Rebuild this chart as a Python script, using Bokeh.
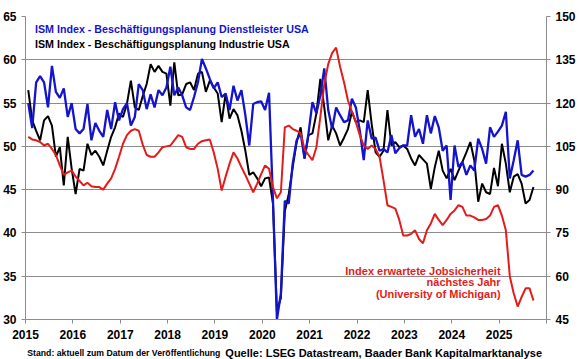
from bokeh.plotting import figure
from bokeh.layouts import column
from bokeh.models import Range1d, LinearAxis, FixedTicker, Label
from bokeh.core.properties import value
from bokeh.embed import file_html
from bokeh.resources import INLINE

# monthly data, Jan 2015 .. Sep 2025
services = [55, 52.1, 57.4, 58.1, 57.4, 54.5, 59.3, 56.3, 55.6, 56.7, 53.4, 55,
            52, 51.5, 52, 54.9, 50.7, 52.7, 51.8, 51.1, 54.2, 52, 55.1, 53,
            54.3, 55, 52.4, 53.4, 57.2, 56.5, 54.3, 56, 54.5, 56.5, 55.9, 56.8,
            59.2, 55.9, 56.8, 55.9, 54.5, 54.2, 55.7, 57.4, 60.1, 59, 57.8, 56.7,
            57.4, 55.7, 56.1, 54.2, 57, 55.3, 56.5, 53.6, 50.1, 54.9, 55.1, 55.2,
            54.2, 56.2, 43.8, 30, 33, 43.7, 43.4, 48, 50.7, 51.5, 48.6, 51.5,
            55.1, 53.8, 55.9, 59, 54.2, 52, 54.5, 53.6, 52.8, 53, 55.5, 54.5,
            51.8, 48.4, 53, 50.9, 51, 49.5, 49.7, 49.3, 51.3, 49.2, 49.8, 50.1,
            50.1, 53.6, 51.1, 52, 50.3, 53.6, 51.5, 53.5, 52.2, 49.5, 50.1, 43.8,
            50.1, 47.6, 48.2, 46.7, 47.8, 47.2, 50.9, 49.7, 48, 52.2, 51.1, 51.7,
            52.4, 54, 46.3, 48.4, 50.7, 46.7, 46.5, 46.7, 47.2]

industry = [56.5, 53, 51.8, 50.7, 53, 53.5, 52.4, 48.8, 49.9, 45.5, 51.1, 47.4,
            44.5, 47.4, 47.2, 50.3, 49, 49.5, 48.8, 47.8, 49.5, 51.1, 52.2, 53.8,
            53.4, 54.9, 57.6, 54.5, 54.2, 55.8, 57.2, 59.5, 58.6, 59.3, 58.6, 58.4,
            54.7, 59.7, 55.9, 56, 57.2, 57.4, 56.5, 58.4, 58.6, 56.3, 57.6, 56.8,
            56.1, 52.8, 56.1, 53.2, 54.3, 53.6, 51.8, 49.5, 46.7, 47, 46.3, 45.4,
            46.3, 46.4, 43.4, 31, 32.5, 42.5, 44.5, 47.6, 50.5, 52.2, 48.6, 51.3,
            51.5, 53.8, 57.8, 54.5, 50.7, 52.4, 51.5, 50.1, 51, 52, 54, 52.8,
            53, 52.8, 56.5, 52.6, 49.3, 48.8, 49.5, 54.2, 50.1, 50.5, 49.9, 50.1,
            49.7, 48.6, 47.8, 49, 48.5, 48, 45.1, 47.6, 49.5, 47.2, 46.3, 47.4,
            46.1, 47.2, 48.2, 49.3, 50.5, 48.4, 43.6, 45.7, 44.7, 44.5, 47.5, 45.4,
            50.3, 48, 44.7, 46.5, 46.8, 45.7, 43.4, 43.8, 45.3]

job_security = [108.3, 107.4, 107.1, 106.5, 105.3, 105.9, 104.1, 102, 98.4, 95.1, 96, 96.6,
                94.5, 93, 91.5, 92.4, 91.2, 90.9, 90.9, 90, 92.1, 93.9, 97.2, 101.4,
                105.9, 108.9, 110.4, 111, 110.4, 105.6, 102, 101.4, 101.4, 102.9, 104.7, 105,
                105.3, 107.1, 108.9, 108.3, 104.7, 104.1, 104.1, 105.9, 106.8, 107.1, 107.4, 102.9,
                97.2, 89.7, 94.5, 99, 102.9, 100.8, 97.8, 95.1, 92.1, 89.1, 92.1, 95.4,
                98.4, 97.2, 90.9, 87, 89.1, 111.6, 112.2, 111, 110.4, 109.5, 104.1, 102,
                100.2, 104.7, 115.2, 126.6, 133.5, 137.4, 139.2, 132.6, 127.2, 120.9, 117, 113.4,
                108.9, 105.3, 104.1, 105.3, 104.1, 101.4, 93.3, 84.6, 84, 83.4, 79.5, 74.1,
                74.1, 74.7, 75.9, 72.9, 71.4, 75.9, 78.3, 81.6, 79.5, 77.7, 79.5, 81.6,
                82.8, 84.6, 84, 81, 81, 80.4, 79.5, 79.5, 79.8, 81, 84, 84.6,
                81, 75.9, 60, 54, 49.5, 52.8, 55.8, 55.8, 51.6]

year_ticks = list(range(2015, 2027))
year_labels = {y: (str(y) if y < 2026 else "") for y in year_ticks}
left_ticks = [30, 35, 40, 45, 50, 55, 60, 65]
right_ticks = [45, 60, 75, 90, 105, 120, 135, 150]

label_services = "ISM Index - Beschäftigungsplanung Dienstleister USA"
label_industry = "ISM Index - Beschäftigungsplanung Industrie USA"
label_jobsec = ["Index erwartete Jobsicherheit", "nächstes Jahr", "(University of Michigan)"]
footer_left = "Stand: aktuell zum Datum der Veröffentlichung"
footer_right = "Quelle: LSEG Datastream, Baader Bank Kapitalmarktanalyse"

# month positions as decimal years (observations dated in the 2nd half of month)
x = [2015 + (i + 0.7) / 12 for i in range(len(services))]

FONT = "Liberation Sans"
BLUE = "#1414CC"
RED = "#E41B1B"
GRID = "#8C8C8C"

p = figure(width=580, height=343, output_backend="svg", toolbar_location=None,
           x_range=Range1d(2015, 2026), y_range=Range1d(30, 65),
           min_border_left=23, min_border_right=34, min_border_top=16, min_border_bottom=24)
p.outline_line_color = None
p.background_fill_color = "white"
p.border_fill_color = "white"
p.xgrid.grid_line_color = None
p.ygrid.grid_line_color = GRID
p.ygrid.grid_line_width = 1
p.ygrid.ticker = FixedTicker(ticks=left_ticks)

p.extra_y_ranges = {"right": Range1d(45, 150)}

xa = p.xaxis[0]
xa.ticker = FixedTicker(ticks=year_ticks)
xa.major_label_overrides = year_labels
ya = p.yaxis[0]
ya.ticker = FixedTicker(ticks=left_ticks)

ra = LinearAxis(y_range_name="right", ticker=FixedTicker(ticks=right_ticks))
p.add_layout(ra, "right")

for ax in (xa, ya, ra):
    ax.axis_line_color = GRID
    ax.axis_line_width = 1
    ax.major_tick_line_color = GRID
    ax.minor_tick_line_color = None
    ax.major_tick_in = 0
    ax.major_label_text_font = FONT
    ax.major_label_text_font_style = "bold"
    ax.major_label_text_font_size = "12px"
    ax.major_label_text_color = "black"
xa.major_tick_out = 4
xa.major_label_standoff = 6
ya.major_tick_out = 4
ya.major_label_standoff = 5
ra.major_tick_out = 4
ra.major_label_standoff = 5

p.line(x, industry, line_color="black", line_width=2)
p.line(x, services, line_color=BLUE, line_width=2.3)
p.line(x, job_security, line_color=RED, line_width=2, y_range_name="right")

def lab(xv, yv, text, color, size, align="left"):
    p.add_layout(Label(x=xv, y=yv, text=text, text_color=color, text_font=FONT,
                       text_font_style="bold", text_font_size=size,
                       text_align=align, text_baseline="middle"))

lab(2015.2, 63.5, label_services, BLUE, "10.7px")
lab(2015.2, 61.82, label_industry, "black", "10.7px")
for t, yv in zip(label_jobsec, [35.66, 34.31, 32.97]):
    lab(2025.03, yv, t, RED, "11px", "right")

# footer strip below the chart
f = figure(width=580, height=16, output_backend="svg", toolbar_location=None,
           x_range=Range1d(0, 580), y_range=Range1d(0, 16),
           x_axis_type=None, y_axis_type=None,
           min_border_left=0, min_border_right=0, min_border_top=0, min_border_bottom=0)
f.outline_line_color = None
f.xgrid.grid_line_color = None
f.ygrid.grid_line_color = None
f.background_fill_color = "white"
f.border_fill_color = "white"
f.text(x=[2], y=[7], text=[footer_left], text_font=value(FONT), text_font_style="bold",
       text_font_size="8.7px", text_baseline="middle", text_align="left", text_color="black")
f.text(x=[575], y=[7], text=[footer_right], text_font=value(FONT), text_font_style="bold",
       text_font_size="11px", text_baseline="middle", text_align="right", text_color="black")

layout = column(p, f, spacing=0)
open("out.html", "w").write(file_html(layout, INLINE))
